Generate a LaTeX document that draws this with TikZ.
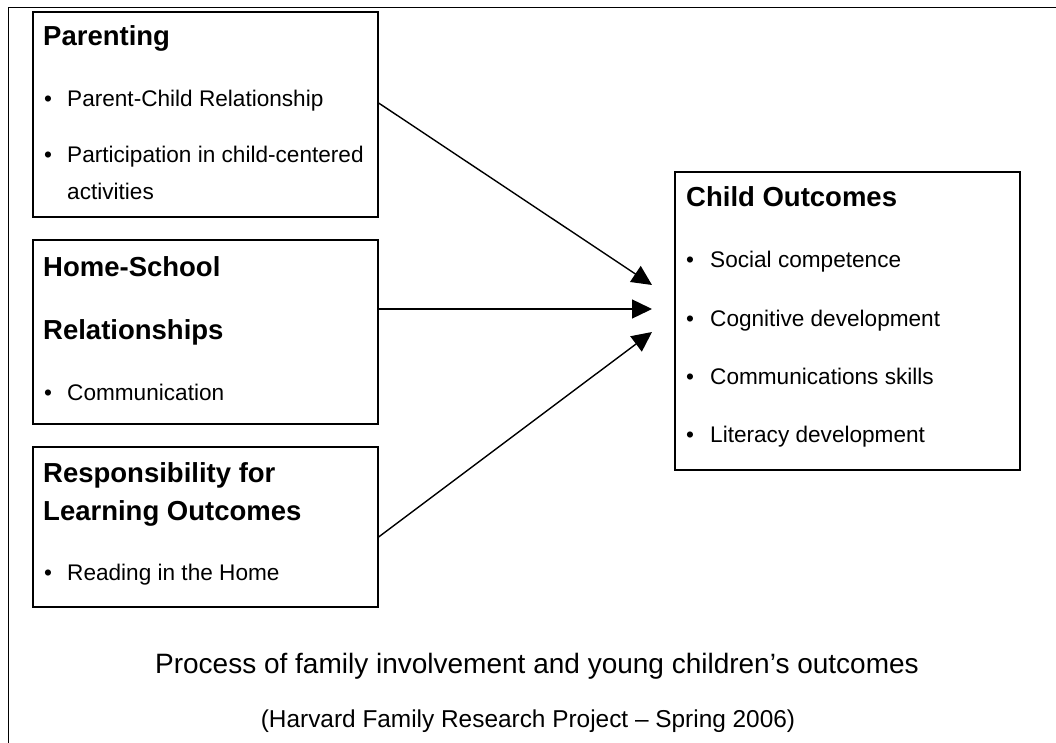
\documentclass[tikz,border=0pt]{standalone}
\usepackage{fontspec}
\setmainfont{Liberation Sans}
\usetikzlibrary{arrows.meta}
\begin{document}
\begin{tikzpicture}[x=1pt,y=-1pt,
  box/.style={draw, line width=1.6pt, inner sep=0pt, anchor=north west},
  head/.style={anchor=base west, inner sep=0pt, font=\fontsize{27.5}{33}\selectfont\bfseries},
  item/.style={anchor=base west, inner sep=0pt, font=\fontsize{22.6}{27}\selectfont},
  captext/.style={anchor=base, inner sep=0pt},
  link/.style={line width=1.4pt, -{Triangle[length=20pt,width=19pt]}}]
\useasboundingbox (0,0) rectangle (1056,743);
% outer frame (open at right and bottom)
\draw[line width=1.8pt] (1056,7.5) -- (8.5,7.5) -- (8.5,743);

% input boxes
\node[box, minimum width=345pt, minimum height=205pt] (par) at (32,11) {};
\node[box, minimum width=345pt, minimum height=184pt] (hs) at (32,239) {};
\node[box, minimum width=345pt, minimum height=160pt] (resp) at (32,446) {};
% outcome box
\node[box, minimum width=345pt, minimum height=298pt] (out) at (674,171) {};

% Parenting
\node[head] (parh) at (43,46) {Parenting};
\node[item] (parb1) at (44,107) {\textbullet};
\node[item] (part1) at (67,107) {Parent-Child Relationship};
\node[item] (parb2) at (44,163) {\textbullet};
\node[item] (part2) at (67,163) {Participation in child-centered};
\node[item] (part3) at (67,200) {activities};

% Home-School Relationships
\node[head] (hsh1) at (43,276) {Home-School};
\node[head] (hsh2) at (43,339) {Relationships};
\node[item] (hsb1) at (44,400) {\textbullet};
\node[item] (hst1) at (67,400) {Communication};

% Responsibility for Learning Outcomes
\node[head] (rh1) at (43,482) {Responsibility for};
\node[head] (rh2) at (43,520) {Learning Outcomes};
\node[item] (rb1) at (44,580) {\textbullet};
\node[item] (rt1) at (67,580) {Reading in the Home};

% Child Outcomes
\node[head] (oh) at (686,207) {Child Outcomes};
\node[item] (ob1) at (686,267) {\textbullet};
\node[item] (ot1) at (710,267) {Social competence};
\node[item] (ob2) at (686,326) {\textbullet};
\node[item] (ot2) at (710,326) {Cognitive development};
\node[item] (ob3) at (686,384) {\textbullet};
\node[item] (ot3) at (710,384) {Communications skills};
\node[item] (ob4) at (686,442) {\textbullet};
\node[item] (ot4) at (710,442) {Literacy development};

% arrow ends
\coordinate (s1) at (par.east |- 0,103);
\coordinate (s2) at (hs.east |- 0,309);
\coordinate (s3) at (resp.east |- 0,537);
\coordinate (e1) at (652,285);
\coordinate (e2) at (652,309);
\coordinate (e3) at (652,332);
\draw[link] (s1) -- (e1);
\draw[link] (s2) -- (e2);
\draw[link] (s3) -- (e3);

% caption
\node[captext, font=\fontsize{28}{34}\selectfont] (c1) at (537,673) {Process of family involvement and young children’s outcomes};
\node[captext, font=\fontsize{24.4}{29}\selectfont] (c2) at (528,727) {(Harvard Family Research Project – Spring 2006)};
\end{tikzpicture}
\end{document}
